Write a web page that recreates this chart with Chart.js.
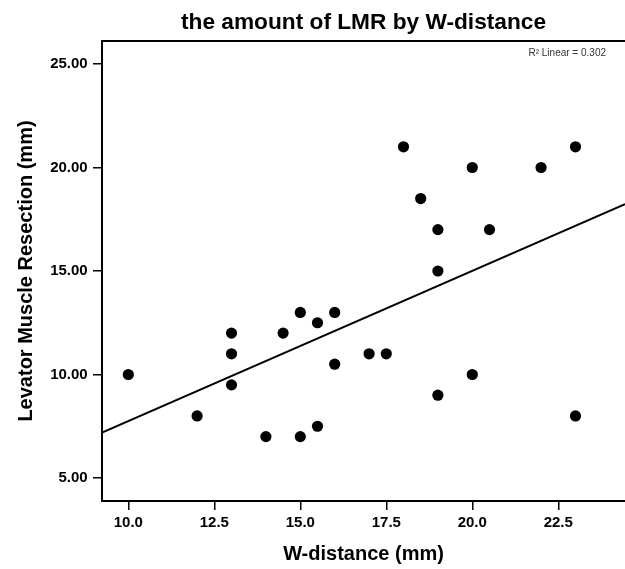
<!DOCTYPE html>
<html>
<head>
<meta charset="utf-8">
<script src="https://cdn.jsdelivr.net/npm/chart.js@4.4.1/dist/chart.umd.min.js"></script>
<style>
  html, body { margin: 0; padding: 0; background: #fff; }
  #wrap { width: 625px; height: 569px; }
</style>
</head>
<body>
<div id="wrap"><canvas id="lmrChart" width="625" height="569"></canvas></div>
<script>
// W-distance (mm) for each patient
const wDistance = [
  10, 12, 13, 13, 13, 14, 14.5, 15, 15, 15.5, 15.5, 16, 16,
  17, 17.5, 18, 18.5, 19, 19, 19, 20, 20, 20.5, 22, 23, 23,
];
// Levator muscle resection (mm), same order
const lmr = [
  10, 8, 12, 11, 9.5, 7, 12, 13, 7, 12.5, 7.5, 13, 10.5,
  11, 11, 21, 18.5, 17, 15, 9, 20, 10, 17, 20, 21, 8,
];
const xTicks = [10, 12.5, 15, 17.5, 20, 22.5];
const yTicks = [5, 10, 15, 20, 25];
const rSquared = 0.302;

const FONT = '"Liberation Sans", Arial, sans-serif';
const X_MIN = 9.235, X_MAX = 24.44;
const Y_MIN = 3.89, Y_MAX = 26.11;

/** Least squares fit line (same as SPSS "Fit Line at Total") */
function linearFit(xs, ys) {
  const n = xs.length;
  const mx = xs.reduce((a, b) => a + b, 0) / n;
  const my = ys.reduce((a, b) => a + b, 0) / n;
  let sxy = 0, sxx = 0;
  xs.forEach((x, i) => {
    sxy += (x - mx) * (ys[i] - my);
    sxx += (x - mx) * (x - mx);
  });
  const slope = sxy / sxx;
  return { slope, intercept: my - slope * mx };
}

const fit = linearFit(wDistance, lmr);
const points = wDistance.map((x, i) => ({ x: x, y: lmr[i] }));
const fitLine = [X_MIN, X_MAX].map((x) => ({ x: x, y: fit.intercept + fit.slope * x }));

// top border of the frame + R² label
const framePlugin = {
  id: "frame",
  afterDraw(chart) {
    const { ctx, chartArea } = chart;
    ctx.save();
    ctx.strokeStyle = "#000";
    ctx.lineWidth = 2;
    ctx.beginPath();
    ctx.moveTo(chartArea.left - 1, chartArea.top);
    ctx.lineTo(chartArea.right, chartArea.top);
    ctx.stroke();

    ctx.fillStyle = "#333";
    ctx.font = "10px " + FONT;
    ctx.textAlign = "right";
    ctx.textBaseline = "alphabetic";
    ctx.fillText("R\u00B2 Linear = " + rSquared.toFixed(3), 606, 56);
    ctx.restore();
  },
};

const ctx = document.getElementById("lmrChart").getContext("2d");
new Chart(ctx, {
  type: "scatter",
  data: {
    datasets: [
      {
        type: "line",
        data: fitLine,
        borderColor: "#000",
        borderWidth: 2,
        pointRadius: 0,
        fill: false,
      },
      {
        data: points,
        backgroundColor: "#000",
        borderWidth: 0,
        pointRadius: 5.6,
      },
    ],
  },
  options: {
    responsive: false,
    animation: false,
    layout: { padding: 0, autoPadding: false },
    plugins: {
      legend: { display: false },
      tooltip: { enabled: false },
      title: {
        display: true,
        text: "the amount of LMR by W-distance",
        fullSize: false,
        color: "#000",
        font: { family: FONT, size: 22.7, weight: "bold" },
        padding: { top: 9, bottom: 4.8 },
      },
    },
    scales: {
      x: {
        type: "linear",
        min: X_MIN,
        max: X_MAX,
        afterBuildTicks: (scale) => {
          scale.ticks = xTicks.map((v) => ({ value: v }));
        },
        afterFit: (scale) => {
          scale.height = 68;
          scale.paddingLeft = 0;
          scale.paddingRight = 0;
        },
        border: { display: true, color: "#000", width: 2 },
        grid: {
          drawOnChartArea: false,
          drawTicks: true,
          tickLength: 9,
          color: "#000",
          lineWidth: 1.5,
        },
        ticks: {
          padding: 3.5,
          color: "#000",
          font: { family: FONT, size: 15, weight: "bold" },
          callback: (v) => Number(v).toFixed(1),
        },
        title: {
          display: true,
          text: "W-distance (mm)",
          color: "#000",
          font: { family: FONT, size: 20, weight: "bold" },
          padding: { top: 0, bottom: 2.2 },
        },
      },
      y: {
        type: "linear",
        min: Y_MIN,
        max: Y_MAX,
        afterBuildTicks: (scale) => {
          scale.ticks = yTicks.map((v) => ({ value: v }));
        },
        afterFit: (scale) => {
          scale.width = 102;
          scale.paddingTop = 0;
          scale.paddingBottom = 0;
        },
        border: { display: true, color: "#000", width: 2 },
        grid: {
          drawOnChartArea: false,
          drawTicks: true,
          tickLength: 9,
          color: "#000",
          lineWidth: 1.5,
        },
        ticks: {
          padding: 5.3,
          color: "#000",
          font: { family: FONT, size: 15, weight: "bold" },
          callback: (v) => Number(v).toFixed(2),
        },
        title: {
          display: true,
          text: "Levator Muscle Resection (mm)",
          color: "#000",
          font: { family: FONT, size: 20, weight: "bold" },
          padding: { top: 14, bottom: 0 },
        },
      },
    },
  },
  plugins: [framePlugin],
});
</script>
</body>
</html>
